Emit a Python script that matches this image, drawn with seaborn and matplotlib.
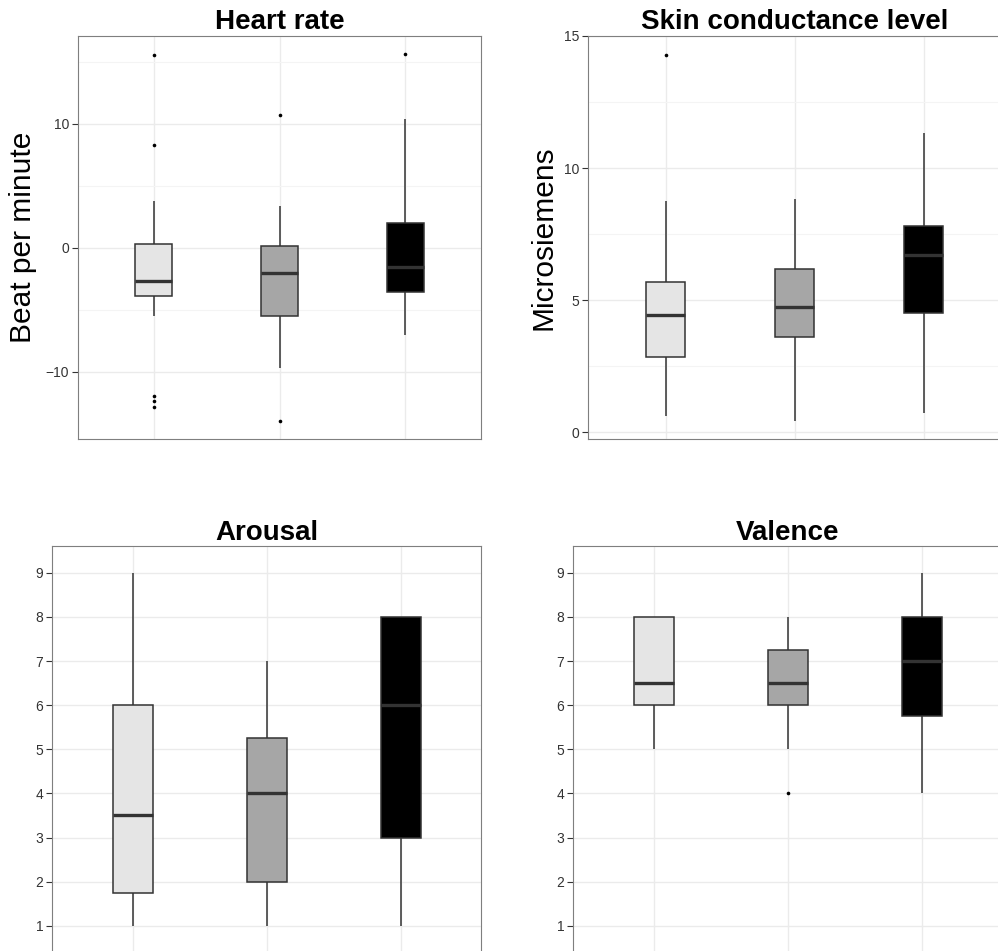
import matplotlib.pyplot as plt
import numpy as np
import pandas as pd
import seaborn as sns

conditions = ['Condition 1', 'Condition 2', 'Condition 3']
box_fills = ['#E5E5E5', '#A6A6A6', '#000000']

# five-number summary per condition: lower whisker, Q1, median, Q3, upper whisker
heart_rate_box = [
    [-5.49, -3.90, -2.67, 0.31, 3.75],
    [-9.70, -5.49, -2.00, 0.12, 3.37],
    [-7.04, -3.58, -1.57, 1.98, 10.35],
]
heart_rate_outliers = [[15.53, 8.28, -11.91, -12.34, -12.79], [10.68, -13.95], [15.61]]

skin_box = [
    [0.62, 2.84, 4.46, 5.68, 8.74],
    [0.43, 3.59, 4.75, 6.17, 8.84],
    [0.72, 4.53, 6.71, 7.82, 11.32],
]
skin_outliers = [[14.28], [], []]

arousal_box = [
    [1, 1.75, 3.5, 6, 9],
    [1, 2, 4, 5.25, 7],
    [1, 3, 6, 8, 8],
]
arousal_outliers = [[], [], []]

valence_box = [
    [5, 6, 6.5, 8, 8],
    [5, 6, 6.5, 7.25, 8],
    [4, 5.75, 7, 8, 9],
]
valence_outliers = [[], [4], []]

sns.set_theme(style='whitegrid')
plt.rcParams['font.family'] = ['Liberation Sans', 'DejaVu Sans']


def draw_panel(ax, title, ylabel, box, outliers, ylim, major, minor, label_x, title_pad):
    """ Draw one ggplot-like boxplot panel. """

    df = pd.DataFrame({'condition': np.repeat(conditions, 5), 'value': np.ravel(box)})
    sns.boxplot(data=df, x='condition', y='value', hue='condition', order=conditions, hue_order=conditions,
                palette=box_fills, saturation=1, width=0.3, whis=(0, 100), showcaps=False, fliersize=0,
                linecolor='#333333', linewidth=1.1, medianprops={'linewidth': 2.4}, legend=False, ax=ax)

    out = pd.DataFrame([(c, v) for c, vals in zip(conditions, outliers) for v in vals],
                       columns=['condition', 'value'])
    if len(out):
        sns.stripplot(data=out, x='condition', y='value', order=conditions, jitter=False,
                      color='black', size=2.6, ax=ax)

    ax.set_xlim(-0.6, 2.6)
    ax.set_ylim(*ylim)
    ax.set_xticks(range(len(conditions)))
    ax.set_yticks(major)
    ax.set_yticks(minor, minor=True)
    ax.tick_params(axis='x', length=0, labelbottom=False)
    ax.tick_params(axis='y', which='major', length=4.5, width=0.8, color='#333333',
                   labelsize=10, labelcolor='#333333', pad=2, left=True)
    ax.tick_params(axis='y', which='minor', length=0)
    ax.set_axisbelow(True)
    ax.grid(which='major', color='#EBEBEB', linewidth=1.0)
    ax.grid(which='minor', axis='y', color='#F4F4F4', linewidth=0.8)
    for spine in ax.spines.values():
        spine.set_color('#7F7F7F')
        spine.set_linewidth(0.8)

    ax.set_xlabel('')
    ax.set_ylabel(ylabel, fontsize=21.5, color='black')
    ax.yaxis.set_label_coords(label_x, 0.5)
    ax.set_title(title, fontsize=20, fontweight='bold', color='black', pad=title_pad)


fig = plt.figure(figsize=(9.98, 9.51), dpi=100)

ax_hr = fig.add_axes([0.0782, 0.5384, 0.4038, 0.4238])
draw_panel(ax_hr, 'Heart rate', 'Beat per minute', heart_rate_box, heart_rate_outliers,
           (-15.40, 17.06), [-10, 0, 10], [-5, 5, 15], -0.101, 5)

ax_sc = fig.add_axes([0.5895, 0.5384, 0.4135, 0.4238])
draw_panel(ax_sc, 'Skin conductance level', 'Microsiemens', skin_box, skin_outliers,
           (-0.25, 14.97), [0, 5, 10, 15], [2.5, 7.5, 12.5], -0.075, 5)

ax_ar = fig.add_axes([0.0524, -0.0013, 0.4296, 0.4268])
draw_panel(ax_ar, 'Arousal', '', arousal_box, arousal_outliers,
           (0.4, 9.6), list(range(1, 10)), [], -0.1, 4)

ax_va = fig.add_axes([0.5745, -0.0013, 0.4296, 0.4268])
draw_panel(ax_va, 'Valence', '', valence_box, valence_outliers,
           (0.4, 9.6), list(range(1, 10)), [], -0.1, 4)

fig.savefig('out.png', dpi=100)
